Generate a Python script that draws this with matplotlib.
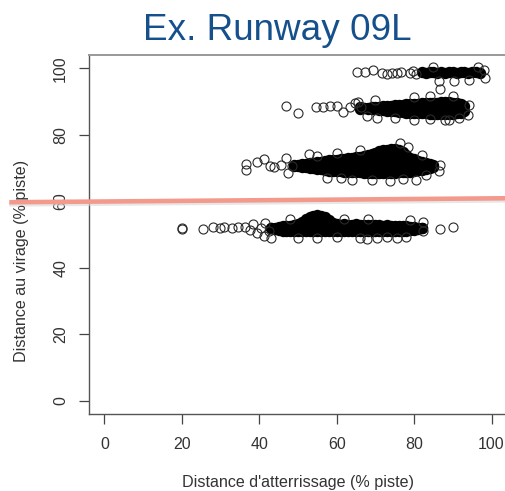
import matplotlib
matplotlib.use("Agg")
import matplotlib.pyplot as plt

plt.rcParams['font.family'] = ['Liberation Sans', 'DejaVu Sans']

title = "Ex. Runway 09L"
x_label = "Distance d'atterrissage (% piste)"
y_label = "Distance au virage (% piste)"
ticks = [0, 20, 40, 60, 80, 100]

# dense part of each band, read column by column:
# x, y of the highest point, y of the lowest point, plus rows filling the middle
band52_x = list(range(43, 83))
band52_top = [51.9, 52.1, 52.3, 52.5, 52.6, 52.7, 52.9, 53.1, 53.8, 54.8,
              55.4, 55.7, 55.8, 55.7, 55.3, 54.5, 53.6, 53.2, 53.0, 53.1,
              52.9, 53.0, 53.1, 52.9, 52.8, 53.0, 52.9, 52.8, 52.9, 52.7,
              52.8, 52.6, 52.7, 52.6, 52.5, 52.6, 52.4, 52.3, 52.1, 51.9]
band52_bottom = [52.1, 51.6, 51.3, 51.2, 51.1, 51.0, 51.2, 51.1, 51.0, 51.1,
                 51.2, 51.0, 51.1, 51.1, 51.0, 51.2, 51.1, 51.0, 51.1, 51.2,
                 51.0, 51.1, 51.0, 51.2, 51.1, 51.0, 51.1, 51.2, 51.1, 51.0,
                 51.1, 51.2, 51.0, 51.1, 51.1, 51.2, 51.3, 51.4, 51.6, 52.0]
band52_fill_y = [53.5]
band52_fill_x = [[52, 53, 54, 55, 56, 57, 58]]

band70_x = list(range(49, 86))
band70_top = [70.6, 70.9, 71.1, 71.3, 71.4, 71.6, 71.8, 71.9, 72.1, 72.3,
              72.4, 72.5, 72.6, 72.8, 72.9, 73.0, 73.2, 73.3, 73.6, 73.8,
              74.1, 74.5, 75.0, 75.4, 75.5, 75.6, 75.6, 75.5, 74.8, 73.8,
              73.0, 72.6, 72.1, 71.8, 71.5, 71.2, 70.9]
band70_bottom = [70.9, 70.6, 70.4, 70.2, 70.0, 69.9, 69.7, 69.6, 69.4, 69.2,
                 69.1, 69.0, 69.0, 68.9, 68.9, 68.8, 68.8, 68.7, 68.6, 68.6,
                 68.5, 68.5, 68.5, 68.5, 68.6, 68.6, 68.6, 68.7, 68.7, 68.8,
                 68.9, 69.0, 69.3, 69.5, 69.8, 70.1, 70.3]
band70_fill_y = [70.8, 73.0]
band70_fill_x = [
    [53, 54, 55, 56, 57, 58, 59, 60, 61, 62, 63, 64, 65, 66, 67, 68, 69, 70,
     71, 72, 73, 74, 75, 76, 77, 78, 79, 80, 81, 82, 83],
    [66, 67, 68, 69, 70, 71, 72, 73, 74, 75, 76, 77, 78],
]

band88_x = list(range(66, 94))
band88_top = [87.9, 88.0, 88.2, 88.3, 88.4, 88.5, 88.6, 88.7, 88.8, 88.9,
              89.0, 89.1, 89.2, 89.3, 89.4, 89.4, 89.5, 89.6, 89.6, 89.7,
              89.7, 89.8, 89.8, 89.8, 89.7, 89.5, 89.2, 88.6]
band88_bottom = [88.3, 88.2, 87.9, 87.7, 87.8, 87.6, 87.5, 87.3, 87.2, 87.1,
                 86.9, 86.8, 86.7, 86.6, 86.6, 86.5, 86.5, 86.5, 86.4, 86.4,
                 86.4, 86.3, 86.3, 86.3, 86.3, 86.5, 86.7, 87.2]
band88_fill_y = [88.0]
band88_fill_x = [[74, 75, 76, 77, 78, 79, 80, 81, 82, 83, 84, 85, 86, 87, 88,
                  89, 90, 91]]

band99_x = list(range(82, 98))
band99_y = [98.9, 98.7, 98.8, 99.0, 98.7, 98.9, 98.6, 98.8, 99.0, 98.7,
            98.9, 98.8, 98.6, 98.9, 98.8, 98.7]

# single circles around and between the bands
loose_x = [
    # ~99
    65.2, 67.3, 69.3, 71.7, 73.0, 74.3, 75.6, 76.6, 79.0, 79.7, 80.5, 86.5,
    90.4, 94.2, 98.3, 98.0, 96.5, 85.0,
    # ~88
    47.0, 49.9, 54.6, 56.4, 58.2, 60.0, 61.6, 63.4, 64.7, 65.5, 66.2, 67.8,
    86.7, 93.8, 94.3, 70.5, 80.0, 88.0, 91.5, 70.0, 80.0, 84.0, 90.0, 75.0,
    84.0, 89.0,
    # ~70
    36.5, 36.5, 39.3, 41.1, 42.7, 43.7, 45.5, 47.0, 47.4, 48.5, 52.8, 57.4,
    73.7, 76.3, 64.0, 80.5, 86.5, 86.7, 78.5, 55.0, 60.0, 66.0, 82.0, 61.0,
    69.0, 77.0, 83.0,
    # ~52
    19.9, 20.1, 25.4, 28.0, 29.8, 31.0, 32.9, 34.4, 36.2, 37.5, 38.5, 39.5,
    40.5, 41.2, 41.5, 42.5, 43.0, 66.0, 67.8, 78.0, 82.2, 82.4, 86.7, 90.0,
    50.0, 55.0, 60.0, 70.5, 73.0, 75.5, 62.0, 68.0, 79.0, 48.0,
]
loose_y = [
    98.8, 98.8, 99.4, 98.6, 98.4, 98.7, 98.5, 98.8, 98.6, 99.2, 98.2, 96.3,
    96.1, 96.4, 97.2, 99.6, 100.3, 100.4,
    88.6, 86.7, 88.5, 88.5, 88.7, 88.6, 87.0, 88.5, 89.7, 90.0, 88.3, 85.5,
    93.9, 85.8, 88.9, 85.0, 84.5, 84.4, 85.0, 90.4, 91.3, 91.7, 91.6, 85.0,
    84.6, 84.4,
    71.1, 69.5, 71.7, 72.6, 70.5, 70.2, 71.0, 72.9, 68.6, 70.5, 74.1, 67.1,
    66.0, 77.4, 66.5, 66.5, 69.0, 71.0, 76.4, 73.5, 74.6, 75.3, 73.9, 67.0,
    66.5, 66.7, 67.9,
    52.1, 51.6, 51.8, 52.2, 52.0, 52.3, 52.1, 52.2, 52.4, 51.5, 53.2, 50.5,
    52.0, 49.4, 53.5, 51.2, 48.8, 49.0, 48.5, 49.2, 53.8, 51.0, 51.8, 52.4,
    48.9, 49.0, 49.1, 48.9, 49.2, 49.0, 54.8, 54.6, 54.5, 54.6,
]

# salmon marker line drawn over the slide
marker_line_x = [-24.6, 103.5]
marker_line_y = [59.7, 60.9]

fig = plt.figure(figsize=(5.05, 4.91), dpi=100)
ax = fig.add_axes([89 / 505, 1 - 414 / 491, 418 / 505, 359 / 491])
ax.set_xlim(-4, 104)
ax.set_ylim(-4, 104)

# the overlapping circles in the bands merge into solid black
dense = dict(ls='none', marker='o', ms=6.2, mfc='black', mec='black', mew=2.0)
for xs, top, bottom, fill_y, fill_x in [
        (band52_x, band52_top, band52_bottom, band52_fill_y, band52_fill_x),
        (band70_x, band70_top, band70_bottom, band70_fill_y, band70_fill_x),
        (band88_x, band88_top, band88_bottom, band88_fill_y, band88_fill_x)]:
    ax.plot(xs, top, **dense)
    ax.plot(xs, bottom, **dense)
    for y, row in zip(fill_y, fill_x):
        ax.plot(row, [y] * len(row), **dense)
ax.plot(band99_x, band99_y, **dense)

ax.plot(loose_x, loose_y, ls='none', marker='o', ms=6.5, mfc='none', mec='#2a2a2a', mew=0.8)

# shadow + line
ax.plot(marker_line_x, [v - 0.7 for v in marker_line_y], color='#d8d8d8', lw=3,
        alpha=0.6, clip_on=False, solid_capstyle='butt', zorder=5)
ax.plot(marker_line_x, marker_line_y, color='#f39a8c', lw=3.3, clip_on=False,
        solid_capstyle='butt', zorder=6)

ax.set_xticks(ticks)
ax.set_yticks(ticks)
ax.tick_params(axis='both', direction='out', length=7.5, width=0.9, color='#444444',
               labelsize=11.5, labelcolor='#333333')
ax.tick_params(axis='x', pad=9)
ax.tick_params(axis='y', pad=7.5)
for lab in ax.get_yticklabels():
    lab.set_rotation(90)
    lab.set_va('center')

for side in ['left', 'bottom']:
    ax.spines[side].set_color('#555555')
    ax.spines[side].set_linewidth(1.0)
ax.spines['top'].set_color('#999999')
ax.spines['top'].set_linewidth(1.4)
ax.spines['right'].set_visible(False)

fig.text(277.5 / 505, 1 - 39.5 / 491, title, ha='center', va='baseline',
         fontsize=26.6, color='#15508c')
fig.text(298.5 / 505, 1 - 483 / 491, x_label, ha='center', va='center',
         fontsize=11.6, color='#333333')
fig.text(22 / 505, 1 - 261 / 491, y_label, ha='center', va='center', rotation=90,
         fontsize=11.6, color='#333333')

fig.savefig('out.png', dpi=100)
